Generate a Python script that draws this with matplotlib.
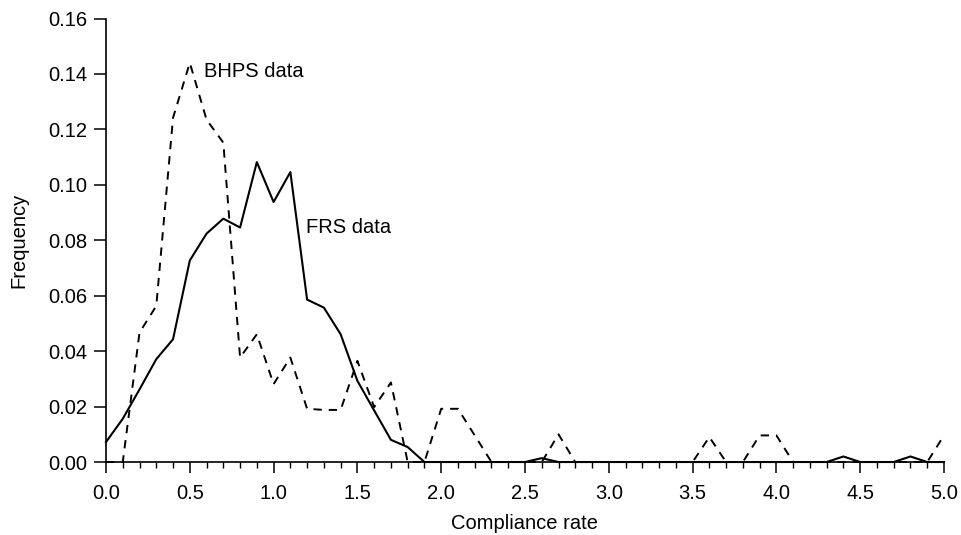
import numpy as np
import matplotlib
matplotlib.use("Agg")
import matplotlib.pyplot as plt
from matplotlib.ticker import MultipleLocator, FormatStrFormatter

plt.rcParams['font.family'] = ['Liberation Sans', 'DejaVu Sans']
plt.rcParams['lines.scale_dashes'] = False

# compliance rate grid (0.0 ... 5.0 step 0.1)
rate = np.round(np.arange(0, 51) * 0.1, 1)

frs = [0.0072, 0.0156, 0.0262, 0.0371, 0.0443, 0.0727, 0.0824, 0.0878, 0.0846, 0.1082,
       0.0938, 0.1046, 0.0586, 0.0557, 0.0461, 0.0293, 0.0186, 0.0080, 0.0054, 0.0,
       0.0, 0.0, 0.0, 0.0, 0.0, 0.0, 0.0014, 0.0, 0.0, 0.0,
       0.0, 0.0, 0.0, 0.0, 0.0, 0.0, 0.0, 0.0, 0.0, 0.0,
       0.0, 0.0, 0.0, 0.0, 0.0020, 0.0, 0.0, 0.0, 0.0020, 0.0,
       0.0]

bhps = [0.0, 0.0, 0.0467, 0.0563, 0.1242, 0.1440, 0.1235, 0.1152, 0.0377, 0.0461,
        0.0281, 0.0377, 0.0192, 0.0188, 0.0188, 0.0365, 0.0198, 0.0287, 0.0, 0.0,
        0.0192, 0.0192, 0.0096, 0.0, 0.0, 0.0, 0.0, 0.0100, 0.0, 0.0,
        0.0, 0.0, 0.0, 0.0, 0.0, 0.0, 0.0090, 0.0, 0.0, 0.0096,
        0.0096, 0.0, 0.0, 0.0, 0.0, 0.0, 0.0, 0.0, 0.0, 0.0,
        0.0096]

fig = plt.figure(figsize=(9.61, 5.35), dpi=100)
ax = fig.add_axes([0.1103, 0.1364, 0.8720, 0.829])

ax.plot(rate, frs, color='black', lw=1.5, clip_on=False)
ax.plot(rate, bhps, color='black', lw=1.4, dashes=[6, 5], clip_on=False)

ax.text(0.586, 0.141, 'BHPS data', fontsize=14.5, ha='left', va='center')
ax.text(1.196, 0.0845, 'FRS data', fontsize=14.5, ha='left', va='center')

ax.set_xlim(0, 5)
ax.set_ylim(0, 0.16)
ax.xaxis.set_major_locator(MultipleLocator(0.5))
ax.xaxis.set_minor_locator(MultipleLocator(0.1))
ax.yaxis.set_major_locator(MultipleLocator(0.02))
ax.xaxis.set_major_formatter(FormatStrFormatter('%.1f'))
ax.yaxis.set_major_formatter(FormatStrFormatter('%.2f'))

for s in ['top', 'right']:
    ax.spines[s].set_visible(False)
for s in ['left', 'bottom']:
    ax.spines[s].set_linewidth(1.2)

ax.tick_params(axis='x', which='major', length=8, width=1.1, pad=8, labelsize=14.5)
ax.tick_params(axis='x', which='minor', length=4.5, width=1.0)
ax.tick_params(axis='y', which='major', length=8.5, width=1.1, pad=5, labelsize=14.5)

ax.set_xlabel('Compliance rate', fontsize=14.5, labelpad=8)
ax.set_ylabel('Frequency', fontsize=14.5, labelpad=14)

plt.savefig('out.png', dpi=100)
